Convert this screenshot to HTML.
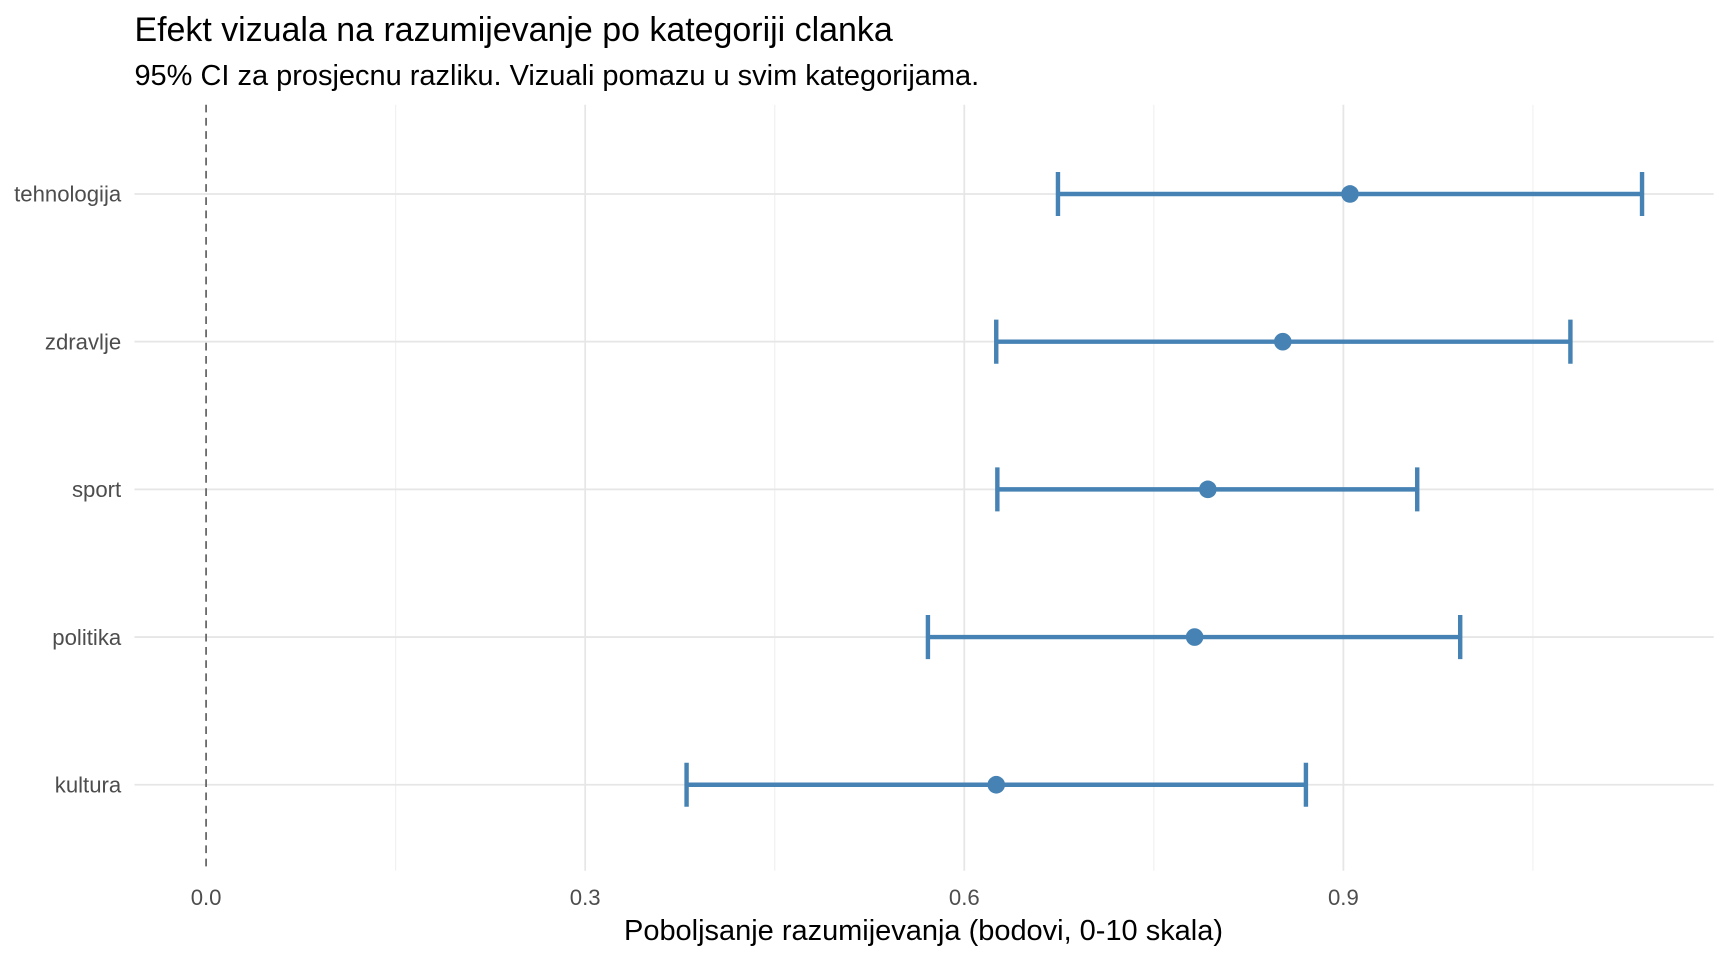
<!DOCTYPE html>
<html><head><style>html,body{margin:0;padding:0;background:#fff}svg{display:block}</style></head>
<body>
<svg width="1728" height="960" viewBox="0 0 1568 871" preserveAspectRatio="none" xmlns="http://www.w3.org/2000/svg" font-family="Liberation Sans, sans-serif">
<rect width="1568" height="871" fill="#fff"/>
<g stroke="#f0f0f0" stroke-width="1">
<line x1="359" y1="95" x2="359" y2="790"/><line x1="703" y1="95" x2="703" y2="790"/><line x1="1047" y1="95" x2="1047" y2="790"/><line x1="1391" y1="95" x2="1391" y2="790"/>
</g>
<g stroke="#e6e6e6" stroke-width="1.6">
<line x1="531" y1="95" x2="531" y2="790"/><line x1="875" y1="95" x2="875" y2="790"/><line x1="1219" y1="95" x2="1219" y2="790"/>
<line x1="122" y1="176" x2="1555" y2="176"/><line x1="122" y1="310" x2="1555" y2="310"/><line x1="122" y1="444" x2="1555" y2="444"/><line x1="122" y1="578" x2="1555" y2="578"/><line x1="122" y1="712" x2="1555" y2="712"/>
</g>
<line x1="187" y1="95" x2="187" y2="790" stroke="#666" stroke-width="1.6" stroke-dasharray="7,5"/>
<g stroke="#4682b4" stroke-width="4" fill="none">
<path d="M960 176H1490M960 156V196M1490 156V196"/>
<path d="M904 310H1425M904 290V330M1425 290V330"/>
<path d="M905 444H1286M905 424V464M1286 424V464"/>
<path d="M842 578H1325M842 558V598M1325 558V598"/>
<path d="M623 712H1185M623 692V732M1185 692V732"/>
</g>
<g fill="#4682b4">
<circle cx="1225" cy="176" r="8"/><circle cx="1164" cy="310" r="8"/><circle cx="1096" cy="444" r="8"/><circle cx="1084" cy="578" r="8"/><circle cx="904" cy="712" r="8"/>
</g>
<g fill="#4d4d4d" font-size="20.1" text-anchor="end">
<text x="110" y="183">tehnologija</text><text x="110" y="317">zdravlje</text><text x="110" y="451">sport</text><text x="110" y="585">politika</text><text x="110" y="719">kultura</text>
</g>
<g fill="#4d4d4d" font-size="20.1" text-anchor="middle">
<text x="187" y="821">0.0</text><text x="531" y="821">0.3</text><text x="875" y="821">0.6</text><text x="1219" y="821">0.9</text>
</g>
<text x="838" y="853" font-size="26.3" text-anchor="middle" fill="#000">Poboljsanje razumijevanja (bodovi, 0-10 skala)</text>
<text x="122" y="37" font-size="30.8" fill="#000">Efekt vizuala na razumijevanje po kategoriji clanka</text>
<text x="122" y="77" font-size="26.3" fill="#000">95% CI za prosjecnu razliku. Vizuali pomazu u svim kategorijama.</text>
</svg>
</body></html>
